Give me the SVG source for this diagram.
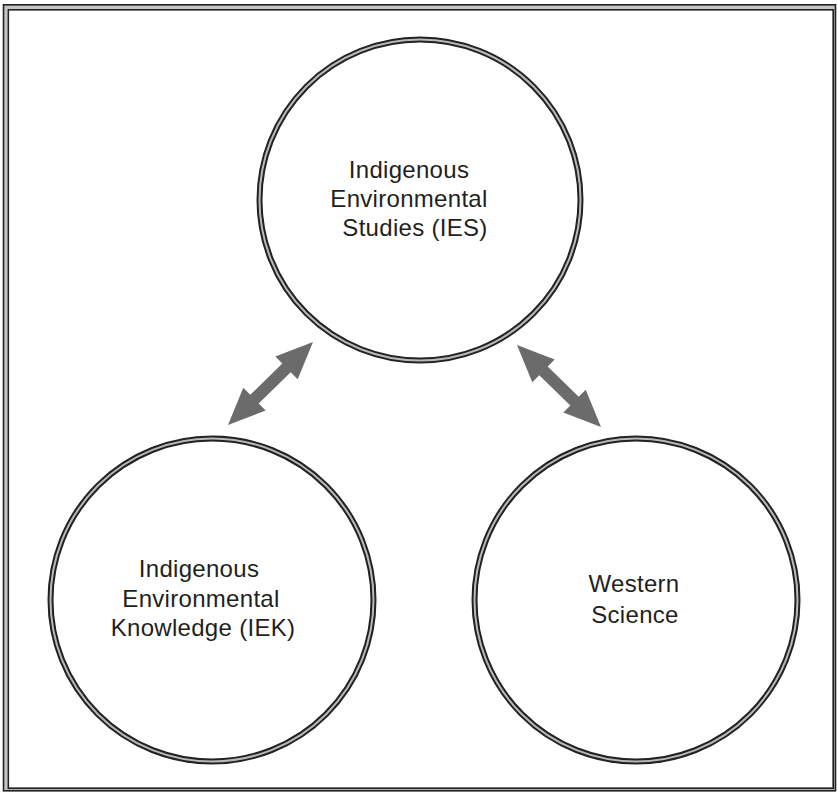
<svg xmlns="http://www.w3.org/2000/svg" width="837" height="792" viewBox="0 0 837 792">
  <style>
    .ring-out { fill: #ffffff; stroke: #222222; stroke-width: 6; }
    .ring-in { fill: none; stroke: #b8b8b8; stroke-width: 2; }
    .label { font-family: "Liberation Sans", Arial, Helvetica, sans-serif; font-size: 24px; letter-spacing: 0.3px; fill: #231f20; text-anchor: middle; }
    .arrow { fill: #6b6b6b; stroke: none; }
    .frame { fill: none; stroke: #222222; stroke-width: 1.6; }
  </style>
  <rect x="0" y="0" width="837" height="792" fill="#ffffff"/>
  <g id="frame">
    <rect x="5.5" y="7" width="828.5" height="782" fill="none" stroke="#c4c4c4" stroke-width="4"/>
    <rect class="frame" x="3.5" y="4.8" width="832" height="786"/>
    <rect class="frame" x="8.3" y="9.8" width="825" height="778.5"/>
  </g>
  <g id="connectors">
    <polygon class="arrow" points="228,425 265.65,410.6 258.66,403.44 290.72,372.14 297.71,379.3 313,342 275.35,356.4 282.34,363.56 250.28,394.86 243.29,387.7"/>
    <polygon class="arrow" points="517,345 532.29,382.29 539.28,375.13 570.34,405.45 563.35,412.61 601,427 585.71,389.71 578.72,396.87 547.66,366.55 554.65,359.39"/>
  </g>
  <g id="node-ies">
    <circle class="ring-out" cx="420" cy="200" r="160.5"/>
    <circle class="ring-in" cx="420" cy="200" r="160.5"/>
    <text class="label" x="409" y="178">Indigenous</text>
    <text class="label" x="409" y="207">Environmental</text>
    <text class="label" x="415" y="236">Studies (IES)</text>
  </g>
  <g id="node-iek">
    <circle class="ring-out" cx="212" cy="600" r="161.5"/>
    <circle class="ring-in" cx="212" cy="600" r="161.5"/>
    <text class="label" x="199" y="577">Indigenous</text>
    <text class="label" x="201" y="606.5">Environmental</text>
    <text class="label" x="203" y="636">Knowledge (IEK)</text>
  </g>
  <g id="node-ws">
    <circle class="ring-out" cx="636" cy="600" r="161.5"/>
    <circle class="ring-in" cx="636" cy="600" r="161.5"/>
    <text class="label" x="634" y="592">Western</text>
    <text class="label" x="635" y="622.5">Science</text>
  </g>
</svg>
